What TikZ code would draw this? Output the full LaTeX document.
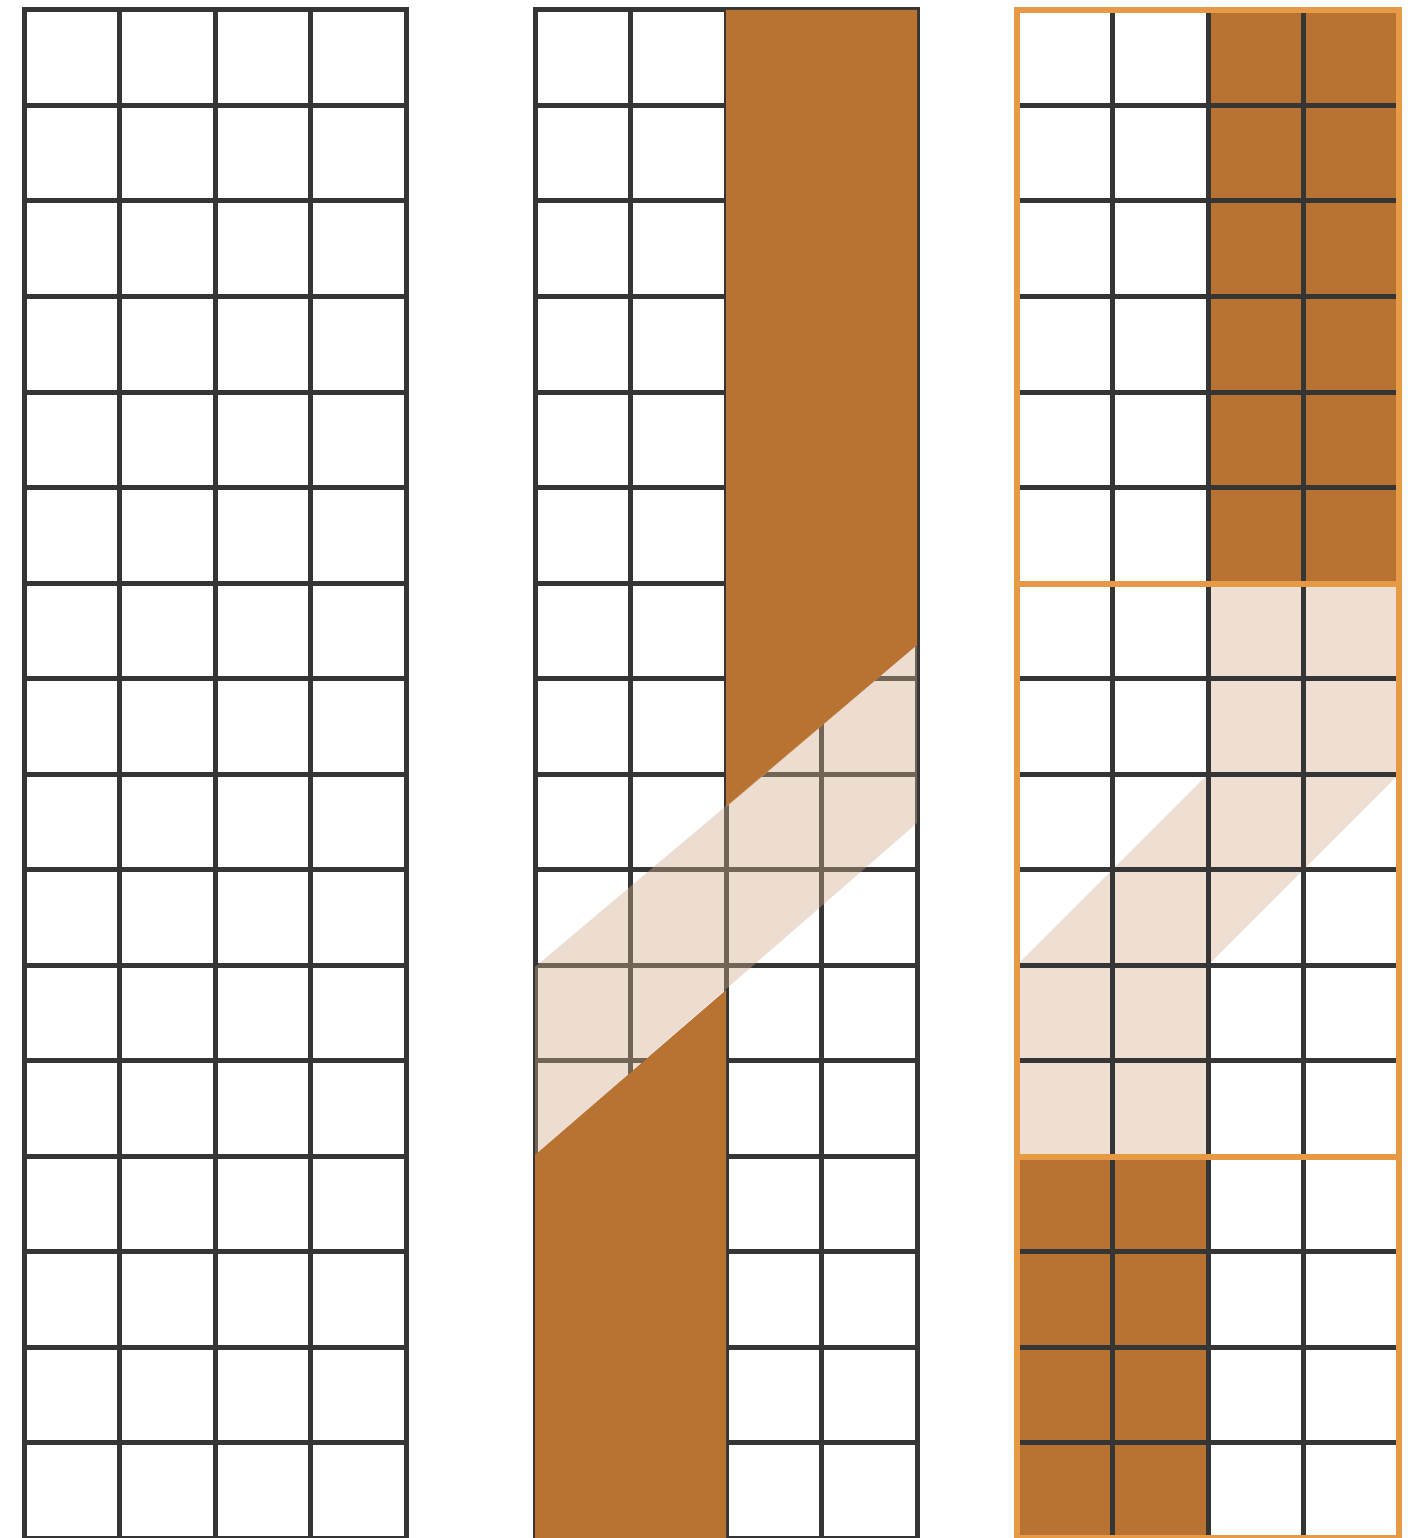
\documentclass[tikz,border=0pt]{standalone}
\definecolor{gridc}{HTML}{353535}
\definecolor{copper}{HTML}{B87333}
\definecolor{bandc}{RGB}{210,172,142}
\definecolor{tanc}{HTML}{EEDFD2}
\definecolor{orangeb}{HTML}{E69A45}
\newcommand\mygrid[2]{%
  \foreach \i in {1,2,3} \draw[#2] ({#1+\i*95.5},10) -- ({#1+\i*95.5},1538);
  \foreach \j in {1,...,15} \draw[#2] (#1,{10+\j*95.5}) -- ({#1+382},{10+\j*95.5});
}
\begin{document}
\begin{tikzpicture}[x=1pt,y=-1pt,
  gridline/.style={draw=gridc,line width=5pt},
  borderline/.style={draw=gridc,line width=5pt},
  orangeline/.style={draw=orangeb,line width=6pt},
  copperfill/.style={fill=copper},
  bandfill/.style={fill=bandc,fill opacity=0.4},
  tanfill/.style={fill=tanc}]
\useasboundingbox (0,0) rectangle (1410,1538);
\fill[white] (0,0) rectangle (1410,1538);
% left grid
\mygrid{24}{gridline}
\draw[borderline] (24,10) rectangle (406,1538);
% middle grid
\mygrid{535}{gridline}
\draw[borderline] (535,10) rectangle (917,1538);
\fill[copperfill] (726,10) -- (917,10) -- (917,645) -- (726,807) -- cycle;
\fill[copperfill] (535,1155) -- (726,990) -- (726,1540) -- (535,1540) -- cycle;
\fill[bandfill] (917,645) -- (917,823) -- (535,1155) -- (535,967) -- cycle;
% right grid
\fill[copperfill] (1208,10) rectangle (1399,584);
\fill[tanfill] (1208,584) -- (1399,584) -- (1399,774) -- (1208,965) -- (1208,1157) -- (1017,1157) -- (1017,965) -- (1208,774) -- cycle;
\fill[copperfill] (1017,1157) rectangle (1208,1540);
\mygrid{1017}{gridline}
\draw[orangeline] (1017,584) -- (1399,584);
\draw[orangeline] (1017,1157) -- (1399,1157);
\draw[orangeline] (1017,10) rectangle (1399,1538);
\end{tikzpicture}
\end{document}
